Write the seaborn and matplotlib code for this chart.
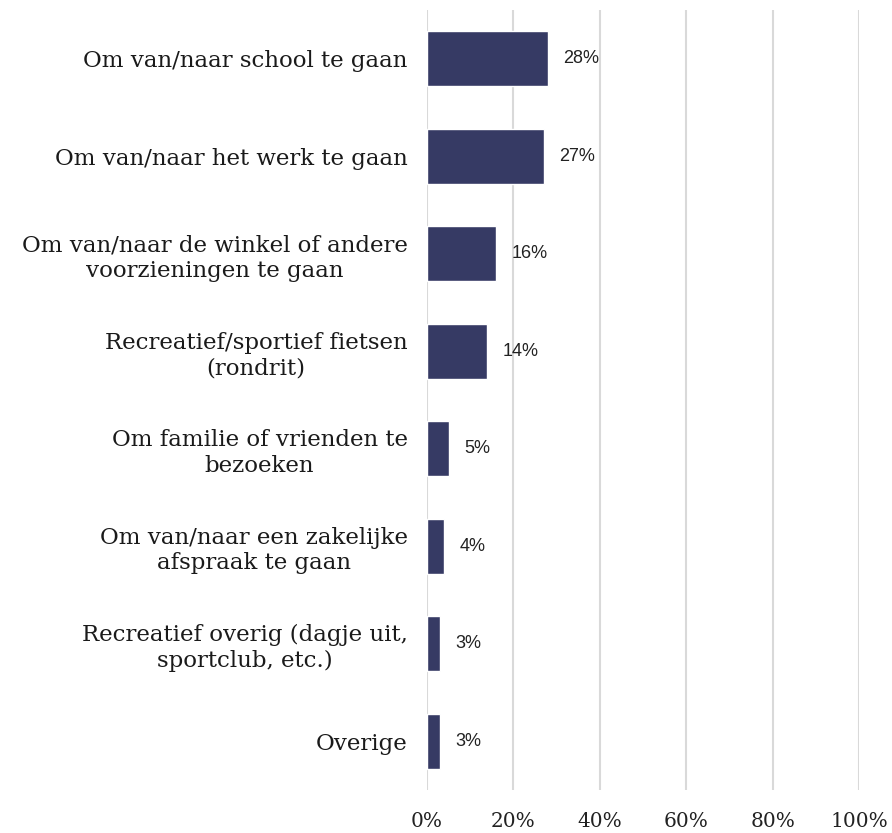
import pandas as pd
import matplotlib.pyplot as plt
import matplotlib.ticker as ticker
import seaborn as sns

# data
categories = [
    "Om van/naar school te gaan",
    "Om van/naar het werk te gaan",
    "Om van/naar de winkel of andere\nvoorzieningen te gaan",
    "Recreatief/sportief fietsen\n(rondrit)",
    "Om familie of vrienden te\nbezoeken",
    "Om van/naar een zakelijke\nafspraak te gaan",
    "Recreatief overig (dagje uit,\nsportclub, etc.)",
    "Overige",
]
shares = [0.28, 0.27, 0.16, 0.14, 0.05, 0.04, 0.03, 0.03]
value_labels = ["28%", "27%", "16%", "14%", "5%", "4%", "3%", "3%"]

df = pd.DataFrame({"category": categories, "share": shares})

sns.set_theme(style="white")
fig = plt.figure(figsize=(8.92, 8.33), dpi=100)
ax = fig.add_axes([0.4787, 0.0516, 0.4843, 0.9364])

sns.barplot(data=df, x="share", y="category", color="#363a64",
            width=0.56, saturation=1, ax=ax)

ax.set_xlim(0, 1.0)
ax.set_xticks([0, 0.2, 0.4, 0.6, 0.8, 1.0])
ax.xaxis.set_major_formatter(ticker.PercentFormatter(1.0, decimals=0))
ax.grid(axis="x", color="#d9d9d9", linewidth=1.5)
ax.set_axisbelow(True)
for s in ax.spines.values():
    s.set_visible(False)
ax.set_xlabel("")
ax.set_ylabel("")
ax.tick_params(axis="x", length=0, pad=16, labelsize=14.5, labelcolor="#222222")
ax.tick_params(axis="y", length=0, pad=14, labelsize=16.5, labelcolor="#1a1a1a")
for lab in ax.get_xticklabels() + ax.get_yticklabels():
    lab.set_fontfamily("DejaVu Serif")
for lab in ax.get_yticklabels():
    lab.set_horizontalalignment("right")
    lab.set_multialignment("center")
    lab.set_linespacing(1.2)

for i, (v, t) in enumerate(zip(shares, value_labels)):
    ax.annotate(t, (v, i), xytext=(11, 0), textcoords="offset points",
                va="center", ha="left", fontsize=13, color="#222222",
                family="Liberation Sans")

fig.savefig("out.png", dpi=100)
